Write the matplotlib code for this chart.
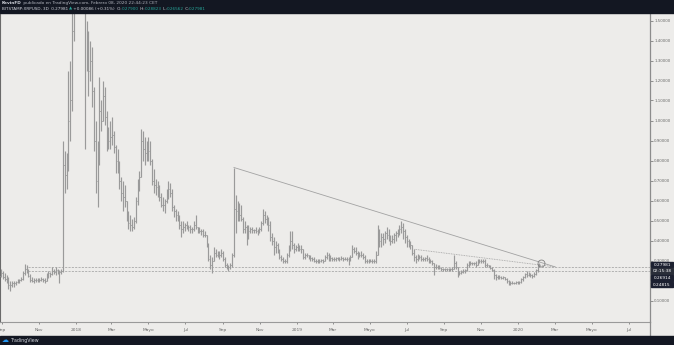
import numpy as np
import matplotlib
matplotlib.use("Agg")
import matplotlib.pyplot as plt
import matplotlib.dates as mdates
from matplotlib.patches import Rectangle
from matplotlib.lines import Line2D

# ---------------- data (3-day OHLC bars, BITSTAMP:XRPUSD) ----------------
start_date = "2017-08-31"
bar_days = 3
first_open = 0.225

high = [
    0.26, 0.25, 0.24, 0.23, 0.22, 0.20, 0.20, 0.20, 0.20, 0.21, 0.21,          # Sep 2017
    0.22, 0.25, 0.285, 0.28, 0.26, 0.235, 0.22, 0.215, 0.215, 0.215,           # Oct
    0.215, 0.22, 0.215, 0.215, 0.24, 0.25, 0.245, 0.27, 0.26, 0.27,            # Nov
    0.26, 0.255, 0.26, 0.90, 0.85, 0.84, 1.25, 1.30, 1.65, 2.40,               # Dec
    3.30, 3.40, 3.20, 2.40, 2.20, 1.85, 1.50, 1.45, 1.40, 1.37, 1.17,          # Jan 2018
    1.00, 0.90, 1.22, 1.10, 1.20, 1.17, 1.05, 0.97, 1.00,                      # Feb
    1.02, 0.95, 0.88, 0.86, 0.80, 0.72, 0.70, 0.68, 0.60, 0.55,                # Mar
    0.53, 0.51, 0.52, 0.62, 0.71, 0.75, 0.96, 0.95, 0.92, 0.90,                # Apr
    0.92, 0.90, 0.81, 0.76, 0.71, 0.70, 0.68, 0.64, 0.62, 0.61, 0.66,          # May
    0.70, 0.69, 0.66, 0.58, 0.56, 0.55, 0.53, 0.50, 0.50, 0.49,                # Jun
    0.50, 0.48, 0.48, 0.47, 0.50, 0.53, 0.47, 0.47, 0.46, 0.46,                # Jul
    0.45, 0.43, 0.39, 0.33, 0.32, 0.37, 0.36, 0.35, 0.35, 0.36,                # Aug
    0.35, 0.32, 0.29, 0.28, 0.29, 0.34, 0.765, 0.63, 0.60, 0.59,               # Sep
    0.58, 0.52, 0.50, 0.48, 0.48, 0.47, 0.47, 0.46, 0.47, 0.46, 0.47,          # Oct
    0.50, 0.56, 0.55, 0.53, 0.52, 0.50, 0.44, 0.42, 0.40, 0.39,                # Nov
    0.36, 0.33, 0.32, 0.31, 0.34, 0.38, 0.45, 0.45, 0.39, 0.38,                # Dec
    0.39, 0.38, 0.38, 0.36, 0.34, 0.34, 0.33, 0.33, 0.32, 0.32,                # Jan 2019
    0.31, 0.31, 0.31, 0.31, 0.31, 0.33, 0.345, 0.34, 0.33, 0.32,               # Feb
    0.32, 0.32, 0.32, 0.32, 0.325, 0.32, 0.32, 0.32, 0.32, 0.33,               # Mar
    0.38, 0.37, 0.37, 0.35, 0.345, 0.35, 0.34, 0.33, 0.31, 0.31,               # Apr
    0.31, 0.31, 0.31, 0.35, 0.48, 0.46, 0.44, 0.44, 0.45, 0.47,                # May
    0.46, 0.43, 0.43, 0.44, 0.45, 0.46, 0.48, 0.50, 0.49, 0.46,                # Jun
    0.43, 0.41, 0.40, 0.38, 0.36, 0.33, 0.335, 0.33, 0.33, 0.32, 0.32,         # Jul
    0.33, 0.32, 0.31, 0.305, 0.29, 0.285, 0.28, 0.28, 0.27, 0.265,             # Aug
    0.265, 0.265, 0.265, 0.265, 0.27, 0.33, 0.30, 0.27, 0.25, 0.255,           # Sep
    0.26, 0.26, 0.29, 0.30, 0.30, 0.295, 0.295, 0.30, 0.31, 0.31,              # Oct
    0.31, 0.31, 0.31, 0.29, 0.28, 0.28, 0.27, 0.26, 0.235, 0.23,               # Nov
    0.23, 0.225, 0.225, 0.22, 0.215, 0.205, 0.20, 0.20, 0.195, 0.20, 0.20,     # Dec
    0.20, 0.215, 0.225, 0.24, 0.25, 0.245, 0.24, 0.235, 0.245, 0.26,           # Jan 2020
    0.285, 0.28823,                                                            # Feb
]
low = [
    0.22, 0.21, 0.20, 0.19, 0.16, 0.15, 0.17, 0.17, 0.18, 0.19, 0.19,
    0.20, 0.205, 0.23, 0.24, 0.22, 0.195, 0.195, 0.19, 0.195, 0.195,
    0.195, 0.20, 0.195, 0.19, 0.20, 0.215, 0.22, 0.23, 0.235, 0.23,
    0.235, 0.19, 0.235, 0.245, 0.64, 0.66, 0.75, 0.90, 1.05, 1.40,
    2.00, 2.80, 2.00, 1.70, 1.55, 0.86, 1.25, 1.12, 1.20, 1.07, 0.85,
    0.64, 0.57, 0.78, 0.95, 1.00, 0.98, 0.85, 0.86, 0.86,
    0.88, 0.84, 0.74, 0.74, 0.66, 0.60, 0.55, 0.57, 0.50, 0.46,
    0.45, 0.45, 0.46, 0.49, 0.58, 0.65, 0.72, 0.80, 0.78, 0.80,
    0.80, 0.78, 0.68, 0.64, 0.63, 0.62, 0.60, 0.57, 0.55, 0.54, 0.59,
    0.61, 0.62, 0.55, 0.52, 0.50, 0.50, 0.46, 0.42, 0.44, 0.45,
    0.46, 0.45, 0.44, 0.44, 0.45, 0.46, 0.44, 0.44, 0.43, 0.42,
    0.42, 0.37, 0.30, 0.26, 0.24, 0.30, 0.32, 0.32, 0.31, 0.32,
    0.30, 0.27, 0.26, 0.25, 0.26, 0.27, 0.32, 0.44, 0.50, 0.50,
    0.50, 0.44, 0.44, 0.38, 0.41, 0.44, 0.44, 0.44, 0.44, 0.43, 0.44,
    0.45, 0.48, 0.49, 0.48, 0.45, 0.40, 0.38, 0.33, 0.34, 0.34,
    0.31, 0.30, 0.29, 0.29, 0.29, 0.32, 0.35, 0.36, 0.34, 0.35,
    0.35, 0.35, 0.34, 0.31, 0.31, 0.32, 0.31, 0.30, 0.30, 0.295,
    0.29, 0.29, 0.29, 0.295, 0.29, 0.30, 0.31, 0.30, 0.30, 0.30,
    0.30, 0.30, 0.305, 0.30, 0.305, 0.30, 0.305, 0.30, 0.28, 0.30,
    0.32, 0.34, 0.33, 0.31, 0.32, 0.32, 0.31, 0.29, 0.29, 0.29,
    0.295, 0.29, 0.29, 0.29, 0.33, 0.37, 0.37, 0.38, 0.39, 0.41,
    0.40, 0.38, 0.39, 0.39, 0.40, 0.42, 0.43, 0.44, 0.41, 0.39,
    0.37, 0.37, 0.36, 0.33, 0.30, 0.29, 0.30, 0.31, 0.30, 0.30, 0.30,
    0.30, 0.29, 0.29, 0.28, 0.23, 0.26, 0.26, 0.26, 0.25, 0.25,
    0.25, 0.25, 0.25, 0.25, 0.25, 0.26, 0.26, 0.22, 0.23, 0.235,
    0.24, 0.24, 0.25, 0.27, 0.28, 0.28, 0.28, 0.27, 0.28, 0.29,
    0.29, 0.29, 0.27, 0.27, 0.27, 0.26, 0.25, 0.21, 0.205, 0.21,
    0.21, 0.21, 0.21, 0.205, 0.19, 0.18, 0.18, 0.185, 0.185, 0.185, 0.185,
    0.185, 0.19, 0.20, 0.215, 0.22, 0.225, 0.22, 0.215, 0.22, 0.23,
    0.245, 0.26562,
]
close = [
    0.24, 0.22, 0.21, 0.20, 0.18, 0.18, 0.19, 0.19, 0.195, 0.20, 0.205,
    0.21, 0.24, 0.26, 0.255, 0.225, 0.205, 0.20, 0.205, 0.205, 0.21,
    0.205, 0.21, 0.205, 0.20, 0.23, 0.24, 0.235, 0.25, 0.245, 0.255,
    0.24, 0.245, 0.25, 0.78, 0.73, 0.80, 1.00, 1.10, 1.45, 2.10,
    3.00, 2.90, 2.10, 1.85, 1.60, 1.55, 1.40, 1.25, 1.30, 1.15, 0.90,
    0.70, 0.80, 1.05, 1.00, 1.12, 1.02, 0.92, 0.90, 0.92,
    0.93, 0.87, 0.80, 0.78, 0.70, 0.64, 0.62, 0.60, 0.52, 0.49,
    0.48, 0.47, 0.50, 0.60, 0.68, 0.72, 0.90, 0.86, 0.84, 0.87,
    0.85, 0.80, 0.70, 0.68, 0.67, 0.66, 0.62, 0.58, 0.58, 0.60, 0.63,
    0.66, 0.64, 0.57, 0.55, 0.53, 0.52, 0.48, 0.46, 0.47, 0.48,
    0.47, 0.47, 0.46, 0.46, 0.48, 0.47, 0.46, 0.45, 0.45, 0.43,
    0.43, 0.38, 0.31, 0.28, 0.30, 0.34, 0.33, 0.34, 0.33, 0.34,
    0.31, 0.28, 0.27, 0.27, 0.28, 0.33, 0.56, 0.55, 0.57, 0.53,
    0.51, 0.46, 0.47, 0.42, 0.45, 0.46, 0.455, 0.455, 0.45, 0.45, 0.46,
    0.49, 0.53, 0.51, 0.50, 0.48, 0.42, 0.40, 0.37, 0.38, 0.36,
    0.32, 0.31, 0.30, 0.30, 0.33, 0.36, 0.40, 0.38, 0.36, 0.37,
    0.37, 0.36, 0.36, 0.32, 0.33, 0.33, 0.32, 0.315, 0.31, 0.30,
    0.30, 0.30, 0.30, 0.305, 0.30, 0.32, 0.33, 0.31, 0.315, 0.31,
    0.31, 0.315, 0.31, 0.31, 0.315, 0.31, 0.31, 0.31, 0.31, 0.32,
    0.36, 0.35, 0.34, 0.33, 0.33, 0.33, 0.32, 0.30, 0.30, 0.30,
    0.30, 0.30, 0.30, 0.33, 0.42, 0.40, 0.42, 0.41, 0.44, 0.43,
    0.42, 0.40, 0.41, 0.43, 0.44, 0.44, 0.46, 0.47, 0.45, 0.42,
    0.40, 0.38, 0.38, 0.34, 0.32, 0.31, 0.32, 0.32, 0.31, 0.31, 0.315,
    0.31, 0.30, 0.30, 0.29, 0.27, 0.27, 0.27, 0.265, 0.26, 0.26,
    0.26, 0.26, 0.26, 0.26, 0.26, 0.29, 0.27, 0.24, 0.24, 0.245,
    0.25, 0.255, 0.28, 0.29, 0.29, 0.29, 0.29, 0.28, 0.30, 0.30,
    0.30, 0.30, 0.28, 0.28, 0.275, 0.265, 0.255, 0.23, 0.22, 0.225,
    0.22, 0.215, 0.22, 0.21, 0.20, 0.185, 0.19, 0.19, 0.19, 0.195, 0.19,
    0.195, 0.21, 0.22, 0.235, 0.23, 0.235, 0.23, 0.225, 0.235, 0.255,
    0.27895, 0.27981,
]

# drawings on the chart
trend_dates = ["2018-09-19", "2020-03-02"]
trend_prices = [0.765, 0.268]
dotted_dates = ["2019-07-14", "2020-03-02"]
dotted_prices = [0.356, 0.268]
hline_prices = [0.26914, 0.24815]
hline_start = "2017-10-14"
circle_date = "2020-02-07"
circle_price = 0.286

# axis labels
xtick_dates = ["2017-09-01", "2017-11-01", "2018-01-01", "2018-03-01", "2018-05-01",
               "2018-07-01", "2018-09-01", "2018-11-01", "2019-01-01", "2019-03-01",
               "2019-05-01", "2019-07-01", "2019-09-01", "2019-11-01", "2020-01-01",
               "2020-03-01", "2020-05-01", "2020-07-01"]
xtick_labels = ["Sep", "Nov", "2018", "Mar", "Mayo", "Jul", "Sep", "Nov", "2019", "Mar",
                "Mayo", "Jul", "Sep", "Nov", "2020", "Mar", "Mayo", "Jul"]
ytick_values = [0.1, 0.2, 0.3, 0.4, 0.5, 0.6, 0.7, 0.8, 0.9, 1.0, 1.1, 1.2, 1.3, 1.4, 1.5]
hidden_ytick = 0.2          # label covered by the price boxes in the reference
price_boxes = ["0.27981", "02:15:38", "0.26914", "0.24815"]

# ---------------- styling ----------------
W, H = 674, 345
BG = "#edecea"
DARK = "#131722"
BAR = "#9a9a9a"

n = min(len(high), len(low), len(close))
dates = np.datetime64(start_date) + np.arange(n) * np.timedelta64(bar_days, "D")
x = mdates.date2num(dates)
hi = np.array(high[:n])
lo = np.array(low[:n])
cl = np.array(close[:n])
op = np.array([first_open] + list(close[:n - 1]))

fig = plt.figure(figsize=(W / 100, H / 100), dpi=100, facecolor=BG)
ax = fig.add_axes([0, (H - 322) / H, 650 / W, (322 - 13) / H])
ax.set_facecolor(BG)

ax.vlines(x, lo, hi, color=BAR, lw=0.85, zorder=3)
ax.hlines(op, x - 1.2, x, color=BAR, lw=0.7, zorder=3)
ax.hlines(cl, x, x + 1.2, color=BAR, lw=0.7, zorder=3)

d2num = lambda s: mdates.date2num(np.datetime64(s))
ax.plot([d2num(d) for d in trend_dates], trend_prices, color="#a2a2a2", lw=0.6, zorder=4)
ax.plot([d2num(d) for d in dotted_dates], dotted_prices, color="#a0a0a0", lw=0.6,
        ls=(0, (1, 1)), zorder=4)
for p in hline_prices:
    ax.plot([d2num(hline_start), d2num("2020-09-01")], [p, p], color="#a8a8a8", lw=0.6,
            ls=(0, (2.5, 1.5)), zorder=2)
ax.plot([d2num(circle_date)], [circle_price], marker="o", ms=5, mfc="none", mec="#808080",
        mew=0.6, zorder=5)

d18 = d2num("2018-01-01")
ax.set_xlim(d18 - 124.9, d18 + 947.3)
ax.set_ylim(-0.0075, 1.5375)

ax.set_xticks([d2num(d) for d in xtick_dates])
ax.set_xticklabels(xtick_labels)
ax.yaxis.tick_right()
ax.set_yticks(ytick_values)
ax.set_yticklabels(["" if abs(v - hidden_ytick) < 1e-9 else f"{v:.5f}" for v in ytick_values])
ax.tick_params(axis="x", length=1.5, width=0.5, pad=2.5, labelsize=3.2, colors="#6a6a6a")
ax.tick_params(axis="y", length=2, width=0.5, pad=1.0, labelsize=2.9, colors="#6a6a6a")

ax.spines["top"].set_visible(False)
ax.spines["right"].set_color("#8c8c8c")
ax.spines["right"].set_linewidth(0.9)
ax.spines["bottom"].set_color("#9a9a9a")
ax.spines["bottom"].set_linewidth(0.8)
ax.spines["left"].set_color("#6a6a6a")
ax.spines["left"].set_linewidth(0.8)

# right axis line continuing below the plot
fig.add_artist(Line2D([650 / W, 650 / W], [1 - 336 / H, 1 - 322 / H], transform=fig.transFigure,
                      color="#8c8c8c", lw=0.9))

# header and footer bands
fig.add_artist(Rectangle((0, 1 - 13 / H), 1, 13 / H, transform=fig.transFigure, color=DARK, zorder=10))
fig.add_artist(Rectangle((0, 0), 1, 9 / H, transform=fig.transFigure, color=DARK, zorder=10))

renderer = fig.canvas.get_renderer()


def place_pieces(pieces, x0, y, size):
    xp = x0
    for txt, color, weight in pieces:
        t = fig.text(xp / W, 1 - y / H, txt, color=color, fontsize=size, fontweight=weight,
                     va="center", ha="left", zorder=11)
        xp += t.get_window_extent(renderer=renderer).width


WHITE = "#d1d4dc"
GREEN = "#26a69a"
place_pieces([("KevinFD", WHITE, "bold"),
              (" publicado en TradingView.com, Febrero 08, 2020 22:44:23 CET", "#b2b5be", "normal")],
             2, 3.0, 3.1)
place_pieces([("BITSTAMP:XRPUSD, 3D  0.27981 ", WHITE, "normal"),
              ("▲", GREEN, "normal"),
              (" +0.00086 (+0.31%)  O:", WHITE, "normal"),
              ("0.27900", GREEN, "normal"),
              (" H:", WHITE, "normal"),
              ("0.28823", GREEN, "normal"),
              (" L:", WHITE, "normal"),
              ("0.26562", GREEN, "normal"),
              (" C:", WHITE, "normal"),
              ("0.27981", GREEN, "normal")],
             2, 8.6, 3.0)

# footer logo and name
fig.text(2 / W, 4.5 / H, "☁", color="#2196f3", fontsize=5, va="center", ha="left", zorder=11)
fig.text(11 / W, 4.5 / H, "TradingView", color="#d1d4dc", fontsize=3.4, va="center", ha="left", zorder=11)

# price label boxes on the right axis
fig.canvas.draw()
y0 = ax.transData.transform((0, close[n - 1]))[1]
for i, label in enumerate(price_boxes):
    yy = y0 - i * 6.67
    fig.add_artist(Rectangle((651 / W, (yy - 2.9) / H), 22 / W, 5.8 / H, transform=fig.transFigure,
                             color="#1c2030" if i != 1 else "#2a2e39", zorder=12))
    fig.text(662 / W, yy / H, label, color="#ffffff", fontsize=3.1, va="center", ha="center",
             zorder=13)

fig.savefig("out.png", dpi=100, facecolor=BG)
